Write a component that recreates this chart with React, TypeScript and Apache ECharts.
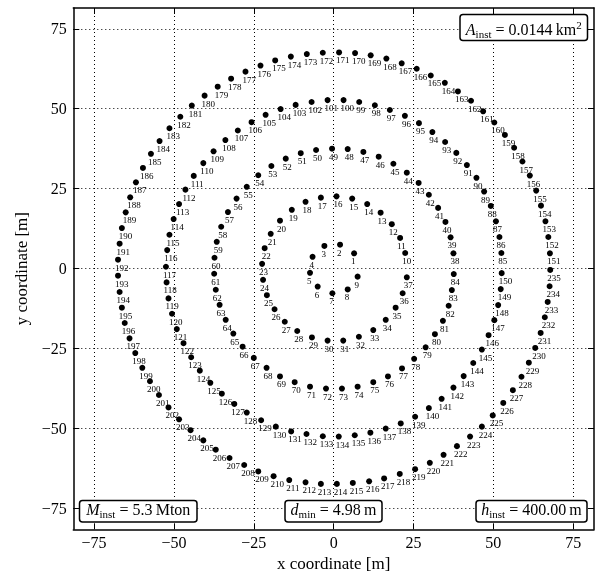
import React, { useEffect, useRef } from 'react';
import * as echarts from 'echarts';

// Points, in numbering order (1..235), one array per ring.
const ring1: [number, number][] = [
  [6.4, 4.8], [2.0, 7.5], [-2.9, 7.1], [-6.6, 3.7], [-7.4, -1.3], [-5.0, -5.6], [-0.4, -7.7], [4.4, -6.5], [7.5, -2.5],
];
const ring2: [number, number][] = [
  [22.4, 4.9], [20.8, 9.6], [18.2, 13.9], [14.7, 17.5], [10.5, 20.2], [5.8, 21.9], [0.9, 22.6], [-4.0, 22.2],
  [-8.8, 20.9], [-13.1, 18.4], [-16.8, 15.0], [-19.7, 10.9], [-21.6, 6.4], [-22.4, 1.5], [-22.1, -3.5], [-20.9, -8.3],
  [-18.5, -12.7], [-15.3, -16.6], [-11.4, -19.5], [-6.8, -21.5], [-1.9, -22.5], [3.0, -22.5], [7.9, -21.3], [12.4, -19.2],
  [16.3, -16.0], [19.4, -12.2], [21.6, -7.7], [22.9, -2.7],
];
const ring3: [number, number][] = [
  [37.5, 4.8], [36.6, 9.8], [35.0, 14.6], [32.7, 19.0], [29.8, 23.1], [26.6, 26.8], [22.9, 30.0], [18.7, 32.8],
  [14.1, 35.0], [9.3, 36.5], [4.4, 37.4], [-0.5, 37.5], [-5.5, 37.1], [-10.3, 36.1], [-15.0, 34.4], [-19.5, 32.1],
  [-23.6, 29.2], [-27.2, 25.6], [-30.4, 21.9], [-33.1, 17.7], [-35.2, 13.1], [-36.6, 8.4], [-37.3, 3.4], [-37.4, -1.6],
  [-36.9, -6.6], [-35.7, -11.3], [-33.8, -16.0], [-31.4, -20.3], [-28.5, -24.4], [-25.0, -27.9], [-21.0, -31.0],
  [-16.8, -33.7], [-12.2, -35.5], [-7.4, -36.9], [-2.4, -37.5], [2.6, -37.5], [7.5, -36.9], [12.4, -35.5], [17.0, -33.7],
  [21.4, -31.2], [25.2, -28.2], [28.8, -24.6], [31.7, -20.5], [34.2, -16.3], [36.0, -11.6], [37.0, -6.7], [37.6, -1.7],
];
const ring4: [number, number][] = [
  [52.5, 4.9], [51.9, 9.9], [50.8, 14.8], [49.2, 19.6], [47.1, 24.1], [44.7, 28.4], [41.7, 32.4], [38.4, 36.2],
  [34.9, 39.6], [30.9, 42.7], [26.7, 45.5], [22.3, 47.8], [17.6, 49.6], [12.9, 51.1], [8.0, 52.1], [3.1, 52.7],
  [-1.9, 52.7], [-6.9, 52.1], [-11.9, 51.2], [-16.6, 49.9], [-21.3, 48.1], [-25.7, 45.8], [-30.0, 43.2], [-33.9, 40.2],
  [-37.6, 36.7], [-40.8, 33.0], [-43.8, 29.0], [-46.4, 24.7], [-48.4, 20.2], [-50.1, 15.5], [-51.4, 10.6], [-52.1, 5.8],
  [-52.5, 0.6], [-52.3, -4.3], [-51.7, -9.3], [-50.6, -14.1], [-49.1, -18.9], [-47.0, -23.3], [-44.6, -27.7], [-41.9, -31.9],
  [-38.6, -35.7], [-35.0, -39.1], [-31.1, -42.3], [-27.2, -45.0], [-22.7, -47.4], [-18.1, -49.4], [-13.3, -50.9],
  [-8.5, -51.7], [-3.4, -52.4], [1.6, -52.5], [6.6, -52.1], [11.5, -51.3], [16.3, -50.0], [21.0, -48.4], [25.5, -46.3],
  [29.8, -43.6], [33.8, -40.7], [37.5, -37.2], [40.7, -33.6], [43.7, -29.5], [46.4, -25.3], [48.5, -20.8], [50.3, -16.1],
  [51.5, -11.4], [52.3, -6.4], [52.6, -1.4],
];
const ring5: [number, number][] = [
  [67.7, 4.8], [67.2, 9.9], [66.3, 14.8], [64.9, 19.7], [63.4, 24.4], [61.4, 29.1], [59.1, 33.5], [56.5, 37.8],
  [53.6, 41.8], [50.3, 45.7], [46.8, 49.2], [43.0, 52.5], [38.9, 55.4], [34.8, 58.1], [30.4, 60.4], [26.0, 62.5],
  [21.3, 64.2], [16.5, 65.7], [11.6, 66.7], [6.7, 67.4], [1.7, 67.6], [-3.4, 67.5], [-8.4, 67.1],
  [-13.4, 66.3], [-18.3, 65.1], [-22.9, 63.5], [-27.6, 61.6], [-32.1, 59.4], [-36.3, 56.9], [-40.4, 54.1], [-44.4, 51.0],
  [-48.0, 47.5], [-51.4, 43.9], [-54.5, 39.9], [-57.2, 35.9], [-59.7, 31.5], [-61.9, 27.0], [-63.7, 22.3], [-65.1, 17.6],
  [-66.3, 12.7], [-67.0, 7.8], [-67.5, 2.8], [-67.5, -2.2],
  [-67.0, -7.3], [-66.3, -12.2], [-65.4, -17.0], [-63.9, -21.8], [-62.1, -26.4], [-59.9, -31.0], [-57.5, -35.2],
  [-54.7, -39.5], [-51.7, -43.4], [-48.4, -47.1], [-44.8, -50.5], [-40.8, -53.7], [-36.9, -56.6], [-32.6, -59.2],
  [-28.0, -61.4], [-23.6, -63.4], [-18.8, -64.9], [-13.9, -66.1],
  [-8.8, -66.8], [-4.0, -67.3], [1.0, -67.3], [6.0, -67.0], [11.1, -66.5], [15.8, -65.6], [20.7, -64.2], [25.5, -62.7],
  [30.1, -60.7], [34.4, -58.2], [38.6, -55.5], [42.7, -52.5], [46.4, -49.4], [49.8, -45.9], [53.1, -42.0], [56.1, -38.0],
  [58.8, -33.8], [61.1, -29.4], [63.1, -24.8], [64.8, -20.1], [66.1, -15.2], [67.0, -10.4], [67.6, -5.5], [67.8, -0.4],
];

const tickValues = [-75, -50, -25, 0, 25, 50, 75];
const axisMin = -81.5;
const axisMax = 81.5;

const annAValue = '0.0144';
const annMValue = '5.3';
const annDValue = '4.98';
const annHValue = '400.00';

const SERIF = "'Liberation Serif', 'Times New Roman', serif";

function richStyles() {
  const base = { fontFamily: SERIF, fill: '#000', fontSize: 16, lineHeight: 20 };
  return {
    i: { ...base, fontStyle: 'italic' },
    n: { ...base },
    s: { fontFamily: SERIF, fill: '#000', fontSize: 11, lineHeight: 10, verticalAlign: 'bottom' },
    p: { fontFamily: SERIF, fill: '#000', fontSize: 11, lineHeight: 13, verticalAlign: 'top' },
  };
}

function box(x: number, y: number, w: number, h: number, text: string, ty: number) {
  return {
    type: 'group',
    z: 100,
    children: [
      {
        type: 'rect',
        shape: { x, y, width: w, height: h, r: 3 },
        style: { fill: '#fff', stroke: '#000', lineWidth: 1.5 },
        z: 100,
      },
      {
        type: 'text',
        x: x + w / 2,
        y: ty,
        z: 101,
        style: { text, rich: richStyles(), align: 'center', verticalAlign: 'middle', fontFamily: SERIF, fontSize: 16, fill: '#000' },
      },
    ],
  };
}

export default function App() {
  const ref = useRef<HTMLDivElement>(null);
  useEffect(() => {
    if (!ref.current) return;
    const chart = echarts.init(ref.current, null, { renderer: 'svg' });
    const pts = [...ring1, ...ring2, ...ring3, ...ring4, ...ring5];
    const data = pts.map((p, i) => ({ value: p, name: String(i + 1) }));
    const fmt = (v: number) => (v < 0 ? '\u2212' + Math.abs(v) : String(v));
    const lineStyle = { color: '#000', width: 1.5 };
    const tick = { show: true, inside: true, length: 6, customValues: tickValues, lineStyle: { color: '#000', width: 1 } };
    const split = { show: true, customValues: tickValues, lineStyle: { color: '#000', width: 1, type: [1, 3] } };
    const label = { customValues: tickValues, formatter: fmt, fontSize: 16, color: '#000', fontFamily: SERIF };
    const nameStyle = { fontSize: 17, color: '#000', fontFamily: SERIF };

    chart.setOption({
      animation: false,
      grid: { left: 73.3, right: 2, top: 8, bottom: 44.7, containLabel: false, outerBoundsMode: 'none' },
      xAxis: [
        {
          type: 'value', min: axisMin, max: axisMax, position: 'bottom',
          axisLine: { show: true, onZero: false, lineStyle },
          axisTick: tick,
          axisLabel: { ...label, margin: 5 },
          splitLine: split,
          name: 'x coordinate [m]', nameLocation: 'middle', nameGap: 25, nameTextStyle: nameStyle,
        },
        {
          type: 'value', min: axisMin, max: axisMax, position: 'top',
          axisLine: { show: true, onZero: false, lineStyle },
          axisTick: tick,
          axisLabel: { show: false },
          splitLine: { show: false },
        },
      ],
      yAxis: [
        {
          type: 'value', min: axisMin, max: axisMax, position: 'left',
          axisLine: { show: true, onZero: false, lineStyle },
          axisTick: tick,
          axisLabel: { ...label, margin: 6.5 },
          splitLine: split,
          name: 'y coordinate [m]', nameLocation: 'middle', nameGap: 43, nameRotate: 90, nameTextStyle: nameStyle,
        },
        {
          type: 'value', min: axisMin, max: axisMax, position: 'right',
          axisLine: { show: true, onZero: false, lineStyle },
          axisTick: tick,
          axisLabel: { show: false },
          splitLine: { show: false },
        },
      ],
      series: [
        {
          type: 'scatter',
          xAxisIndex: 0,
          yAxisIndex: 0,
          data,
          symbol: 'circle',
          symbolSize: 6,
          itemStyle: { color: '#000', opacity: 1 },
          label: {
            show: true,
            formatter: '{b}',
            position: [0, 11],
            align: 'left',
            verticalAlign: 'middle',
            fontSize: 9,
            fontFamily: SERIF,
            color: '#000',
          },
          emphasis: { disabled: true },
          z: 5,
        },
      ],
      graphic: [
        box(460, 14.5, 127.5, 26, `{i|A}{s|inst}{n| = ${annAValue}\u2009km}{p|2}`, 29),
        box(79.5, 500.5, 117.5, 21.5, `{i|M}{s|inst}{n| = ${annMValue}\u2009Mton}`, 509.5),
        box(285, 500.5, 97, 21.5, `{i|d}{s|min}{n| = ${annDValue}\u2009m}`, 509.5),
        box(476, 500.5, 111, 21.5, `{i|h}{s|inst}{n| = ${annHValue}\u2009m}`, 509.5),
      ],
    });
    return () => chart.dispose();
  }, []);
  return (
    <div
      ref={ref}
      style={{ position: 'absolute', left: 0, top: 0, width: 596, height: 574, willChange: 'transform' }}
    />
  );
}
